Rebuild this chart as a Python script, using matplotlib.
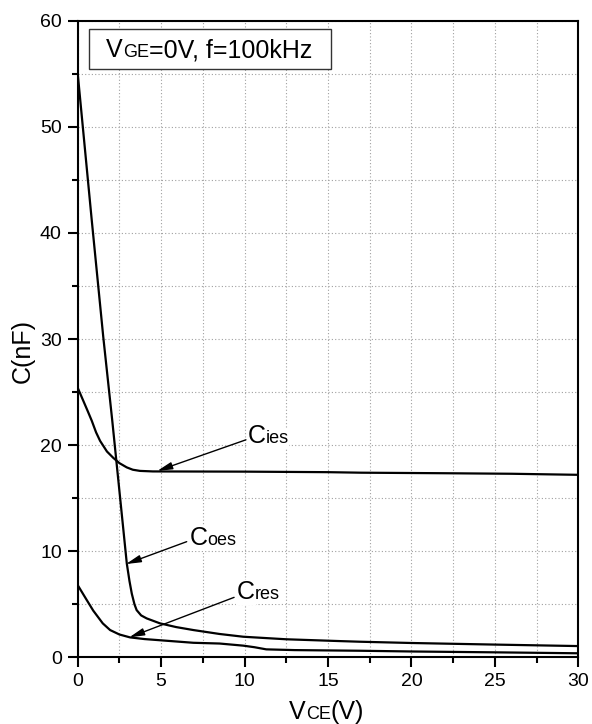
import matplotlib
matplotlib.use("Agg")
import matplotlib.pyplot as plt
from matplotlib.patches import Rectangle
from matplotlib.ticker import MultipleLocator

plt.rcParams['font.family'] = ['Liberation Sans', 'DejaVu Sans']

# Capacitance curves (nF) versus collector-emitter voltage (V)
vce_cies = [0, 0.3, 0.6, 0.84, 1.1, 1.34, 1.75, 2.13, 2.5, 2.94, 3.3, 3.73, 4.5, 10, 15, 17, 22, 26, 30]
cies = [25.4, 24.3, 23.2, 22.3, 21.2, 20.4, 19.4, 18.8, 18.3, 17.9, 17.68, 17.57, 17.52, 17.5, 17.45, 17.4, 17.35, 17.3, 17.2]

vce_coes = [0, 0.84, 1.53, 2.07, 2.94, 3.1, 3.24, 3.4, 3.53, 3.8, 4.13, 4.93, 5.9, 6.93, 8.5, 9.92, 12.5, 15.7, 16.9, 20, 25, 30]
coes = [55.0, 41.2, 30.2, 22.3, 8.85, 7.2, 6.0, 5.0, 4.45, 3.95, 3.67, 3.2, 2.85, 2.57, 2.2, 1.94, 1.7, 1.53, 1.47, 1.35, 1.2, 1.06]

vce_cres = [0, 0.54, 0.93, 1.5, 1.94, 2.5, 3.13, 4, 5, 6.93, 8.5, 9.92, 10.6, 11.3, 13, 16.9, 20, 25, 30]
cres = [6.8, 5.4, 4.4, 3.2, 2.57, 2.15, 1.88, 1.72, 1.6, 1.37, 1.3, 1.1, 0.95, 0.75, 0.68, 0.62, 0.55, 0.47, 0.38]

x_ticks = [0, 5, 10, 15, 20, 25, 30]
y_ticks = [0, 10, 20, 30, 40, 50, 60]

BIG, SMALL = 18, 13

fig = plt.figure(figsize=(5.92, 7.24), dpi=100)
ax = fig.add_axes([0.1313, 0.0921, 0.8456, 0.8793])

ax.plot(vce_cies, cies, color='black', lw=1.6, zorder=3)
ax.plot(vce_coes, coes, color='black', lw=1.6, zorder=3)
ax.plot(vce_cres, cres, color='black', lw=1.6, zorder=3)

ax.set_xlim(0, 30)
ax.set_ylim(0, 60)
ax.set_xticks(x_ticks)
ax.set_yticks(y_ticks)
ax.xaxis.set_minor_locator(MultipleLocator(2.5))
ax.yaxis.set_minor_locator(MultipleLocator(5))
ax.tick_params(which='major', direction='out', length=7.5, width=1.5,
               labelsize=14, pad=4, top=False, right=False)
ax.tick_params(which='minor', direction='out', length=4.5, width=1.5,
               top=False, right=False)
for sp in ax.spines.values():
    sp.set_linewidth(1.5)
ax.grid(which='both', color='#a0a0a0', linestyle=(0, (1, 2)), lw=0.8, zorder=0)
ax.set_axisbelow(True)


def mixed_text(x, y, parts, xcoord='data', ycoord='data', box=False):
    """Draw a run of text pieces of different sizes sharing one baseline."""
    first, fs = parts[0]
    kw = dict(va='baseline', ha='left', color='black', zorder=5, annotation_clip=False)
    if box:
        kw['bbox'] = dict(facecolor='white', edgecolor='none', pad=0.5)
    prev = ax.annotate(first, xy=(x, y), xycoords=(xcoord, ycoord), fontsize=fs, **kw)
    for s, fs in parts[1:]:
        prev = ax.annotate(s, xy=(1, y), xycoords=(prev, ycoord), fontsize=fs, **kw)


# Measurement condition box
ax.add_patch(Rectangle((0.70, 55.46), 14.46, 3.77, facecolor='white',
                       edgecolor='#333333', lw=1.0, zorder=4))
mixed_text(1.70, 56.55, [('V', BIG), ('GE', SMALL), ('=0V, f=100kHz', BIG)])

# Curve labels with arrows
arrow = dict(arrowstyle='-|>,head_length=0.9,head_width=0.22', color='black',
             lw=1.0, shrinkA=0, shrinkB=0)
ax.annotate('', xy=(4.77, 17.57), xytext=(10.08, 20.5), arrowprops=arrow, zorder=5)
mixed_text(10.16, 20.2, [('C', BIG), ('ies', SMALL)], box=True)

ax.annotate('', xy=(2.89, 8.79), xytext=(6.53, 10.9), arrowprops=arrow, zorder=5)
mixed_text(6.69, 10.57, [('C', BIG), ('oes', SMALL)], box=True)

ax.annotate('', xy=(3.09, 1.88), xytext=(9.37, 5.65), arrowprops=arrow, zorder=5)
mixed_text(9.53, 5.46, [('C', BIG), ('res', SMALL)], box=True)

# Axis titles
mixed_text(12.68, -0.0973, [('V', BIG), ('CE', SMALL), ('(V)', BIG)], ycoord='axes fraction')
fig.text(23 / 592, 1 - 351 / 724, 'C(nF)', rotation=90, fontsize=BIG,
         ha='center', va='center')

fig.savefig('out.png', dpi=100)
